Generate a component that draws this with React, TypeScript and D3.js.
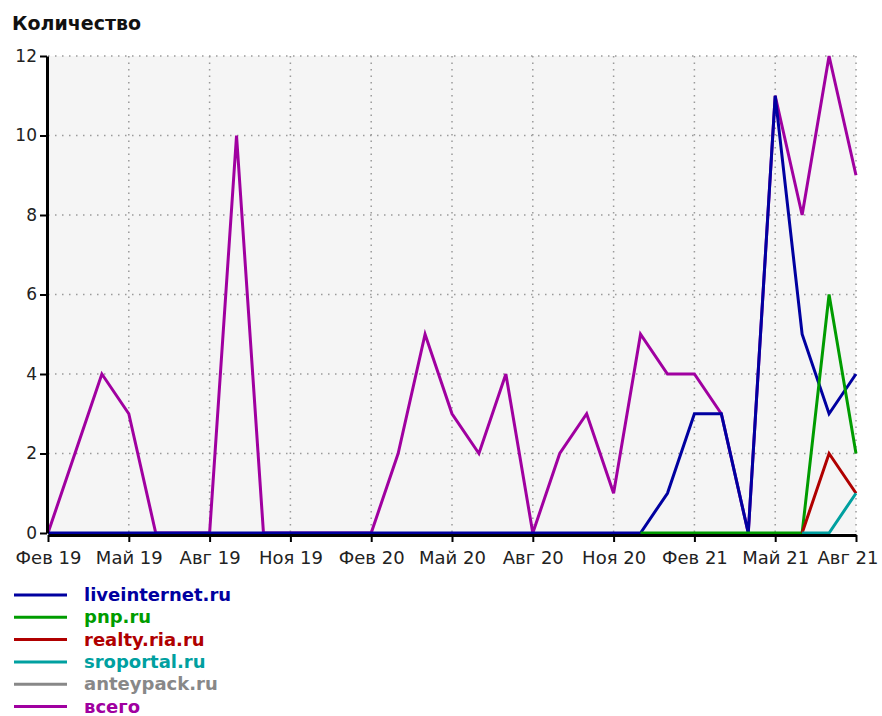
import { useEffect, useRef } from 'react'
import * as d3 from 'd3'

// Months Feb 2019 → Aug 2021
const months = [
  'Фев 19', 'Мар 19', 'Апр 19', 'Май 19', 'Июн 19', 'Июл 19', 'Авг 19', 'Сен 19', 'Окт 19', 'Ноя 19', 'Дек 19',
  'Янв 20', 'Фев 20', 'Мар 20', 'Апр 20', 'Май 20', 'Июн 20', 'Июл 20', 'Авг 20', 'Сен 20', 'Окт 20', 'Ноя 20',
  'Дек 20', 'Янв 21', 'Фев 21', 'Мар 21', 'Апр 21', 'Май 21', 'Июн 21', 'Июл 21', 'Авг 21',
]

const N = null
const liveinternet = [0, 0, 0, 0, 0, 0, 0, 0, 0, 0, 0, 0, 0, 0, 0, 0, 0, 0, 0, 0, 0, 0, 0, 1, 3, 3, 0, 11, 5, 3, 4]
const pnp = [N, N, N, N, N, N, N, N, N, N, N, N, N, N, N, N, N, N, N, N, N, N, 0, 0, 0, 0, 0, 0, 0, 6, 2]
const realty = [N, N, N, N, N, N, N, N, N, N, N, N, N, N, N, N, N, N, N, N, N, N, N, N, N, N, N, N, 0, 2, 1]
const sroportal = [N, N, N, N, N, N, N, N, N, N, N, N, N, N, N, N, N, N, N, N, N, N, N, N, N, N, N, N, 0, 0, 1]
const anteypack: (number | null)[] = months.map(() => null)
const total = [0, 2, 4, 3, 0, 0, 0, 10, 0, 0, 0, 0, 0, 2, 5, 3, 2, 4, 0, 2, 3, 1, 5, 4, 4, 3, 0, 11, 8, 12, 9]

const yTicks = [0, 2, 4, 6, 8, 10, 12]

const series = [
  { name: 'liveinternet.ru', color: '#0000a0', values: liveinternet },
  { name: 'pnp.ru', color: '#009c00', values: pnp },
  { name: 'realty.ria.ru', color: '#b00000', values: realty },
  { name: 'sroportal.ru', color: '#00a0a0', values: sroportal },
  { name: 'anteypack.ru', color: '#888888', values: anteypack },
  { name: 'всего', color: '#a000a0', values: total },
]

// draw order: total underneath, then sources
const drawOrder = ['всего', 'anteypack.ru', 'liveinternet.ru', 'pnp.ru', 'realty.ria.ru', 'sroportal.ru']

export default function App() {
  const svgRef = useRef<SVGSVGElement>(null)

  useEffect(() => {
    document.body.style.margin = '0'
    const svg = svgRef.current
    if (!svg) return
    d3.select(svg).selectAll('*').remove()

    const width = 882
    const height = 716
    const left = 48
    const right = 856
    const top = 56
    const bottom = 533

    const root = d3.select(svg).attr('width', width).attr('height', height)

    const x = d3.scaleLinear().domain([0, months.length - 1]).range([left, right])
    const y = d3.scaleLinear().domain([0, 12]).range([bottom, top])

    const font = '"DejaVu Sans", Verdana, sans-serif'

    // plot background
    root.append('rect')
      .attr('x', left).attr('y', top)
      .attr('width', right - left).attr('height', bottom - top)
      .attr('fill', '#f5f5f5')

    // ── Grid ──────────────────────────────────────────────
    const xTickIdx = months.map((_, i) => i).filter((i) => i % 3 === 0)
    root.append('g')
      .selectAll('line')
      .data(yTicks.filter((d) => d > 0))
      .join('line')
      .attr('x1', left).attr('x2', right)
      .attr('y1', (d) => y(d)).attr('y2', (d) => y(d))
      .attr('stroke', '#9a9a9a')
      .attr('stroke-width', 1.5)
      .attr('stroke-dasharray', '1.5 5.5')

    root.append('g')
      .selectAll('line')
      .data(xTickIdx.filter((i) => i > 0))
      .join('line')
      .attr('x1', (d) => x(d)).attr('x2', (d) => x(d))
      .attr('y1', top).attr('y2', bottom)
      .attr('stroke', '#9a9a9a')
      .attr('stroke-width', 1.5)
      .attr('stroke-dasharray', '1.5 5')

    // ── Lines ─────────────────────────────────────────────
    const line = d3.line<number | null>()
      .defined((d) => d !== null)
      .x((_, i) => x(i))
      .y((d) => y(d as number))

    drawOrder.forEach((name) => {
      const s = series.find((q) => q.name === name)!
      root.append('path')
        .datum(s.values)
        .attr('d', line)
        .attr('fill', 'none')
        .attr('stroke', s.color)
        .attr('stroke-width', 3)
        .attr('stroke-linejoin', 'miter')
    })

    // ── Axes ──────────────────────────────────────────────
    const yAxis = d3.axisLeft(y).tickValues(yTicks).tickSize(7).tickSizeOuter(0).tickPadding(3)
    root.append('g')
      .attr('transform', `translate(${left - 1},0)`)
      .call(yAxis)
      .call((g) => g.select('.domain').attr('stroke', '#000').attr('stroke-width', 3))
      .call((g) => g.selectAll('line').attr('stroke', '#000').attr('stroke-width', 2))
      .call((g) => g.selectAll('text').attr('fill', '#222').attr('font-size', '17px').attr('font-family', font))

    const xAxis = d3.axisBottom(x)
      .tickValues(xTickIdx)
      .tickFormat((d) => months[d as number])
      .tickSize(7).tickSizeOuter(0).tickPadding(9)
    root.append('g')
      .attr('transform', `translate(0,${bottom + 2})`)
      .call(xAxis)
      .call((g) => g.select('.domain').attr('stroke', '#000').attr('stroke-width', 3))
      .call((g) => g.selectAll('line').attr('stroke', '#000').attr('stroke-width', 2))
      .call((g) => g.selectAll('text').attr('fill', '#222').attr('font-size', '18px').attr('font-family', font))
      // keep the last label inside the picture
      .call((g) => g.selectAll<SVGTextElement, number>('text')
        .filter((d) => d === months.length - 1)
        .attr('text-anchor', 'end')
        .attr('dx', 22))

    // ── Title ─────────────────────────────────────────────
    root.append('text')
      .attr('x', 12).attr('y', 30)
      .attr('font-family', font)
      .attr('font-weight', 'bold')
      .attr('font-size', '19px')
      .attr('fill', '#111')
      .text('Количество')

    // ── Legend ────────────────────────────────────────────
    const legend = root.append('g').attr('transform', 'translate(14,595)')
    series.forEach((s, i) => {
      const g = legend.append('g').attr('transform', `translate(0,${i * 22.3})`)
      g.append('line')
        .attr('x1', 0).attr('x2', 53)
        .attr('y1', 0).attr('y2', 0)
        .attr('stroke', s.color)
        .attr('stroke-width', 3)
      g.append('text')
        .attr('x', 70).attr('y', 6)
        .attr('font-family', font)
        .attr('font-weight', 'bold')
        .attr('font-size', '18px')
        .attr('fill', s.color)
        .text(s.name)
    })
  }, [])

  return <svg ref={svgRef} style={{ display: 'block' }} />
}
